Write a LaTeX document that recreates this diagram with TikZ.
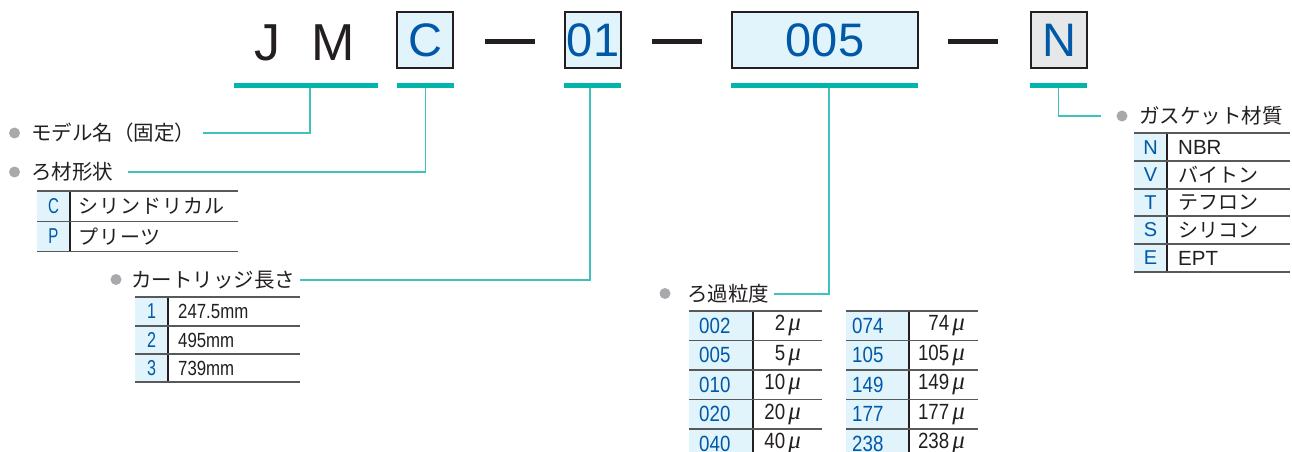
\documentclass[tikz,border=0pt]{standalone}
\usepackage{fontspec}
\usepackage{graphicx}
\setmainfont{Liberation Sans}
\newfontfamily\jp{Noto Sans CJK JP}
\newfontfamily\jpw{Noto Sans CJK JP}[LetterSpace=5]
\newfontfamily\grk{Liberation Serif}
\definecolor{teal1}{HTML}{00B5AA}
\definecolor{leadc}{HTML}{3FC1BE}
\definecolor{keyblue}{HTML}{0058A6}
\definecolor{keyfill}{HTML}{E1F3FB}
\definecolor{graybox}{HTML}{E6E7E8}
\definecolor{bulletc}{HTML}{A7A9AC}
\definecolor{ink}{HTML}{231F20}
\definecolor{rulec}{HTML}{58595B}
\newcommand{\cnd}[2]{\scalebox{#1}[1]{#2}}
\newcommand{\mymu}{\hspace{3pt}{\grk\itshape\fontsize{25}{26}\selectfont μ}}
\tikzset{
  codebox/.style={draw=ink, line width=1.3pt, fill=keyfill, minimum height=56pt, inner sep=0pt, text=keyblue, font=\fontsize{47}{47}\selectfont},
  bigletter/.style={text=ink, inner sep=0pt, font=\fontsize{52}{52}\selectfont},
  dashbar/.style={fill=ink, minimum width=50pt, minimum height=5pt, inner sep=0pt},
  tealbar/.style={fill=teal1, minimum height=5pt, inner sep=0pt},
  leader/.style={draw=leadc, line width=1.2pt},
  bulletdot/.style={circle, fill=bulletc, minimum size=11pt, inner sep=0pt},
  headtxt/.style={anchor=west, inner sep=0pt, text=ink, font=\jp\fontsize{20.5}{24}\selectfont},
  toprule/.style={draw=rulec, line width=2pt},
  rowrule/.style={draw=rulec, line width=1.5pt},
  seprule/.style={draw=ink, line width=1.8pt},
  keytxt/.style={inner sep=0pt, text=keyblue, font=\fontsize{20}{24}\selectfont},
  condkey/.style={inner sep=0pt, text=keyblue, font=\fontsize{21.5}{24}\selectfont},
  meshkey/.style={anchor=west, inner sep=0pt, text=keyblue, font=\fontsize{22}{26}\selectfont},
  meshval/.style={anchor=east, inner sep=0pt, text=ink, font=\fontsize{22}{26}\selectfont},
  valjp/.style={anchor=west, inner sep=0pt, text=ink, font=\jp\fontsize{20}{24}\selectfont},
  vallat/.style={anchor=west, inner sep=0pt, text=ink, font=\fontsize{20.5}{24}\selectfont},
}
\begin{document}
\begin{tikzpicture}[x=1pt,y=-1pt]
\useasboundingbox (0,0) rectangle (1292,452);
\clip (0,0) rectangle (1292,452);
\fill[white] (0,0) rectangle (1292,452);

% ---- model code row ----
\node[bigletter] (lJ) at (267,42.5) {J};
\node[bigletter] (lM) at (333,42.5) {M};
\node[codebox, minimum width=56pt] (bxC) at (425,40) {C};
\node[dashbar] (dA) at (510,42) {};
\node[codebox, minimum width=56pt] (bx01) at (593,40) {01};
\node[dashbar] (dB) at (677,42) {};
\node[codebox, minimum width=186pt] (bx005) at (825,40) {005};
\node[dashbar] (dC) at (973,42) {};
\node[codebox, minimum width=56pt, fill=graybox] (bxN) at (1059,40) {N};

% ---- teal bars ----
\node[tealbar, minimum width=144pt] (barJM) at (306,85.5) {};
\node[tealbar, minimum width=57pt] (barC) at (425.5,85.5) {};
\node[tealbar, minimum width=57pt] (bar01) at (592.5,85.5) {};
\node[tealbar, minimum width=187pt] (bar005) at (824.5,85.5) {};
\node[tealbar, minimum width=57pt] (barN) at (1058.5,85.5) {};

% ---- headings ----
\node[bulletdot] (bulM) at (14.5,133) {};
\node[headtxt] (lblModel) at (31,133) {モデル名（固定）};
\node[bulletdot] (bulS) at (14.5,172) {};
\node[headtxt] (lblShape) at (31,172) {ろ材形状};
\node[bulletdot] (bulL) at (116,279.5) {};
\node[headtxt] (lblLen) at (131,280) {カートリッジ長さ};
\node[bulletdot] (bulF) at (665,293.5) {};
\node[headtxt] (lblMesh) at (687,294) {ろ過粒度};
\node[bulletdot] (bulG) at (1122,116) {};
\node[headtxt] (lblGasket) at (1139,116) {ガスケット材質};

% ---- leaders ----
\draw[leader] ([xshift=4pt]barJM.south) |- ([xshift=8pt]lblModel.east);
\draw[leader] (barC.south) |- ([xshift=15pt]lblShape.east);
\draw[leader] ([xshift=-2.5pt]bar01.south) |- ([xshift=5pt]lblLen.east);
\draw[leader] ([xshift=4.5pt]bar005.south) |- ([xshift=5pt]lblMesh.east);
\draw[leader] (barN.south) |- ([xshift=-15pt]bulG.west);

% ---- table: filter shape ----
\fill[keyfill] (37,190.5) rectangle (70,251.5);
\draw[seprule] (70,190.5) -- (70,251.5);
\draw[toprule] (37,190.5) -- (238,190.5);
\draw[rowrule] (37,221.5) -- (238,221.5);
\draw[rowrule] (37,251.5) -- (238,251.5);
\node[condkey] (shK1) at (53.5,206.5) {\cnd{0.7}{C}};
\node[condkey] (shK2) at (53.5,236.5) {\cnd{0.7}{P}};
\node[valjp, font=\jpw\fontsize{20}{24}\selectfont] (shV1) at (78,206.5) {シリンドリカル};
\node[valjp, font=\jpw\fontsize{20}{24}\selectfont] (shV2) at (78,236.5) {プリーツ};

% ---- table: cartridge length ----
\fill[keyfill] (135,297) rectangle (168,382);
\draw[seprule] (168,297) -- (168,382);
\draw[toprule] (135,297) -- (300,297);
\draw[rowrule] (135,326) -- (300,326);
\draw[rowrule] (135,354) -- (300,354);
\draw[rowrule] (135,382) -- (300,382);
\node[condkey] (lnK1) at (151.5,311.5) {\cnd{0.75}{1}};
\node[condkey] (lnK2) at (151.5,340) {\cnd{0.75}{2}};
\node[condkey] (lnK3) at (151.5,368) {\cnd{0.75}{3}};
\node[vallat] (lnV1) at (178,311.5) {\cnd{0.82}{247.5mm}};
\node[vallat] (lnV2) at (178,340) {\cnd{0.82}{495mm}};
\node[vallat] (lnV3) at (178,368) {\cnd{0.82}{739mm}};

% ---- tables: filtration rating ----
\fill[keyfill] (689,311) rectangle (753,460);
\fill[keyfill] (846,311) rectangle (909,460);
\draw[seprule] (753,311) -- (753,460);
\draw[seprule] (909,311) -- (909,460);
\draw[toprule] (689,311) -- (822,311);
\draw[toprule] (846,311) -- (978,311);
\foreach \yy in {340.5,370,399.5,429} {
  \draw[rowrule] (689,\yy) -- (822,\yy);
  \draw[rowrule] (846,\yy) -- (978,\yy);
}
\foreach \ka/\va/\kb/\vb [count=\i] in {002/2/074/74, 005/5/105/105, 010/10/149/149, 020/20/177/177, 040/40/238/238} {
  \pgfmathsetmacro{\yc}{296.25+29.5*\i}
  \node[meshkey] (mAk\i) at (699,\yc) {\cnd{0.85}{\ka}};
  \node[meshval] (mAv\i) at (801,\yc) {\cnd{0.85}{\va}\mymu};
  \node[meshkey] (mBk\i) at (852,\yc) {\cnd{0.85}{\kb}};
  \node[meshval] (mBv\i) at (965,\yc) {\cnd{0.85}{\vb}\mymu};
}

% ---- table: gasket material ----
\fill[keyfill] (1134,133) rectangle (1167,272);
\draw[seprule] (1167,133) -- (1167,272);
\draw[toprule] (1134,133) -- (1290,133);
\foreach \yy in {161,189,216,244,272} {
  \draw[rowrule] (1134,\yy) -- (1290,\yy);
}
\node[keytxt] (gK1) at (1150.5,147.5) {N};
\node[keytxt] (gK2) at (1150.5,175) {V};
\node[keytxt] (gK3) at (1150.5,202.5) {T};
\node[keytxt] (gK4) at (1150.5,230) {S};
\node[keytxt] (gK5) at (1150.5,258) {E};
\node[vallat] (gV1) at (1178,147.5) {NBR};
\node[valjp] (gV2) at (1178,175) {バイトン};
\node[valjp] (gV3) at (1178,202.5) {テフロン};
\node[valjp] (gV4) at (1178,230) {シリコン};
\node[vallat] (gV5) at (1178,258) {EPT};
\end{tikzpicture}
\end{document}
